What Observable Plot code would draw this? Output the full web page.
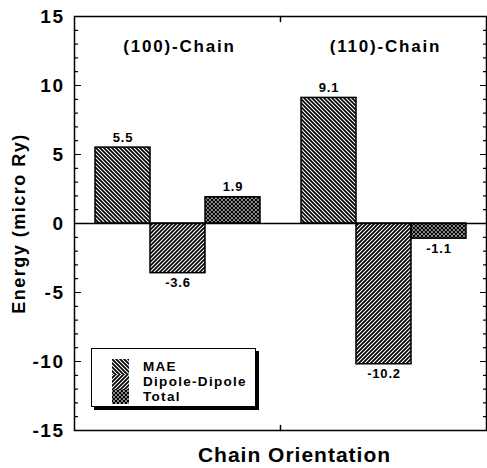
<!DOCTYPE html>
<html>
<head>
<meta charset="utf-8">
<script src="https://cdn.jsdelivr.net/npm/d3@7"></script>
<script src="https://cdn.jsdelivr.net/npm/@observablehq/plot@0.6"></script>
<style>
  html, body { margin: 0; padding: 0; background: #fff; }
  #chart { position: relative; width: 487px; height: 468px; font-family: "Liberation Sans", Arial, Helvetica, sans-serif; }
  #chart > svg { position: absolute; left: 0; top: 0; }
  #legend { position: absolute; left: 91px; top: 348px; width: 163px; height: 57px; border: 1.5px solid #000;
            box-shadow: 3px 3px 0 #000; background: #fff; box-sizing: content-box; padding: 0; }
  #legend > div { margin: 0 !important; padding: 10px 0 0 20px !important; font: bold 13.5px "Liberation Sans", Arial, sans-serif !important; letter-spacing: 1.3px; color: #000; line-height: 15px !important; }
  #legend .lg-swatch { padding-bottom: 0 !important; height: 15px; line-height: 15px !important; display: flex; align-items: center; }
  #legend .lg-swatch * { line-height: 15px !important; }
  #legend .lg-swatch svg { margin-right: 14px !important; }
</style>
</head>
<body>
<svg width="0" height="0" style="position:absolute">
  <defs>
    <pattern id="hatch-mae" patternUnits="userSpaceOnUse" width="4" height="4">
      <path d="M-1,-1 L5,5 M-1,3 L1,5 M3,-1 L5,1" stroke="#000" stroke-width="1.7"/>
    </pattern>
    <pattern id="hatch-dd" patternUnits="userSpaceOnUse" width="4" height="4">
      <path d="M-1,5 L5,-1 M-1,1 L1,-1 M3,5 L5,3" stroke="#000" stroke-width="1.7"/>
    </pattern>
    <pattern id="hatch-total" patternUnits="userSpaceOnUse" width="4" height="4">
      <path d="M-1,-1 L5,5 M-1,3 L1,5 M3,-1 L5,1 M-1,5 L5,-1 M-1,1 L1,-1 M3,5 L5,3" stroke="#000" stroke-width="1.4"/>
    </pattern>
  </defs>
</svg>
<div id="chart"><div id="legend"></div></div>
<script>
// ---- data ----
const chains = ["(100)-Chain", "(110)-Chain"];
const series = ["MAE", "Dipole-Dipole", "Total"];
const maeValues = [5.5, 9.1];
const dipoleValues = [-3.6, -10.2];
const totalValues = [1.9, -1.1];
const yTicks = [-15, -10, -5, 0, 5, 10, 15];
const yMinorTicks = d3.range(-15, 16, 1);
const yLabel = "Energy (micro Ry)";
const xLabel = "Chain Orientation";
const patterns = ["url(#hatch-mae)", "url(#hatch-dd)", "url(#hatch-total)"];

const seriesValues = [maeValues, dipoleValues, totalValues];
const rows = chains.flatMap((chain, i) =>
  series.map((s, j) => ({chain, series: s, value: seriesValues[j][i]})));

const tickShape = {draw(ctx, l) { ctx.moveTo(0, 0); ctx.lineTo(0, -l); }};
const fontFamily = '"Liberation Sans", Arial, Helvetica, sans-serif';
const fmt = d => String(d);
const firstChain = () => chains[0];
const lastChain = () => chains[chains.length - 1];

const plot = Plot.plot({
  width: 487,
  height: 468,
  marginLeft: 74,
  marginRight: 1,
  marginTop: 16,
  marginBottom: 38,
  style: {fontFamily, color: "#000", background: "transparent", overflow: "visible"},
  fx: {domain: chains, padding: 0, axis: null, label: null},
  x: {domain: series, paddingInner: 0, paddingOuter: 0.35, axis: null, label: null},
  y: {domain: [-15, 15], axis: null},
  color: {domain: series, range: patterns},
  marks: [
    Plot.barY(rows, {fx: "chain", x: "series", y: "value", fill: "series", stroke: "#000", strokeWidth: 1.5}),
    Plot.ruleY([0], {stroke: "#000", strokeWidth: 1.5}),
    // y axis labels (left)
    Plot.axisY({anchor: "left", ticks: yTicks, tickFormat: fmt, tickSize: 0, tickPadding: 10, fontSize: 19, fontWeight: "bold", label: null, className: "ytl", ariaLabel: "ytl"}),
    // inward ticks on the left and right frame edges
    Plot.vector(yTicks, {fx: firstChain, y: d => d, frameAnchor: "left", length: 6, rotate: 90, anchor: "start", shape: tickShape, stroke: "#000", strokeWidth: 1.2}),
    Plot.vector(yMinorTicks, {fx: firstChain, y: d => d, frameAnchor: "left", length: 3, rotate: 90, anchor: "start", shape: tickShape, stroke: "#000", strokeWidth: 1.2}),
    Plot.vector(yTicks, {fx: lastChain, y: d => d, frameAnchor: "right", length: 6, rotate: -90, anchor: "start", shape: tickShape, stroke: "#000", strokeWidth: 1.2}),
    Plot.vector(yMinorTicks, {fx: lastChain, y: d => d, frameAnchor: "right", length: 3, rotate: -90, anchor: "start", shape: tickShape, stroke: "#000", strokeWidth: 1.2}),
    // value labels
    Plot.text(rows, {filter: d => d.value > 0, fx: "chain", x: "series", y: "value", text: d => d.value.toFixed(1),
      lineAnchor: "bottom", dy: -6, fontSize: 13, fontWeight: "bold", className: "vlab", ariaLabel: "vlab"}),
    Plot.text(rows, {filter: d => d.value < 0, fx: "chain", x: "series", y: "value", text: d => d.value.toFixed(1),
      lineAnchor: "top", dy: 5, fontSize: 13, fontWeight: "bold", className: "vlab", ariaLabel: "vlab"}),
    // group titles
    Plot.text(chains, {fx: d => d, text: d => d, frameAnchor: "top", textAnchor: "middle", lineAnchor: "middle", dx: 2, dy: 30,
      fontSize: 17, fontWeight: "bold", className: "gtitle", ariaLabel: "gtitle"}),
    // frame + middle ticks + titles (drawn once over all facets)
    Plot.frame({facet: "super", stroke: "#000", strokeWidth: 1.5}),
    Plot.vector([0], {facet: "super", frameAnchor: "top", length: 5, rotate: 180, anchor: "start", shape: tickShape, stroke: "#000", strokeWidth: 1.5}),
    Plot.vector([0], {facet: "super", frameAnchor: "bottom", length: 5, rotate: 0, anchor: "start", shape: tickShape, stroke: "#000", strokeWidth: 1.5}),
    Plot.text([yLabel], {facet: "super", frameAnchor: "left", text: d => d, textAnchor: "middle", lineAnchor: "middle", rotate: -90, dx: -55,
      fontSize: 18, fontWeight: "bold", className: "ytitle", ariaLabel: "ytitle"}),
    Plot.text([xLabel], {facet: "super", frameAnchor: "bottom", text: d => d, textAnchor: "middle", lineAnchor: "middle", dx: 14, dy: 25,
      fontSize: 21, fontWeight: "bold", className: "xtitle", ariaLabel: "xtitle"})
  ]
});

// letter spacing to match the wide lettering of the reference
const spacing = {ytl: "1.5px", vlab: "0.8px", gtitle: "1.8px", ytitle: "1.5px", xtitle: "1px"};
for (const [key, ls] of Object.entries(spacing)) {
  plot.querySelectorAll(`.${key} text, [aria-label="${key}"] text, text.${key}`).forEach(t => { t.style.letterSpacing = ls; });
}

const chart = document.getElementById("chart");
chart.insertBefore(plot, chart.firstChild);

const legend = Plot.legend({
  color: {domain: series, range: patterns},
  columns: 1,
  swatchWidth: 17,
  swatchHeight: 15,
  className: "lg"
});
document.getElementById("legend").appendChild(legend);
</script>
</body>
</html>
